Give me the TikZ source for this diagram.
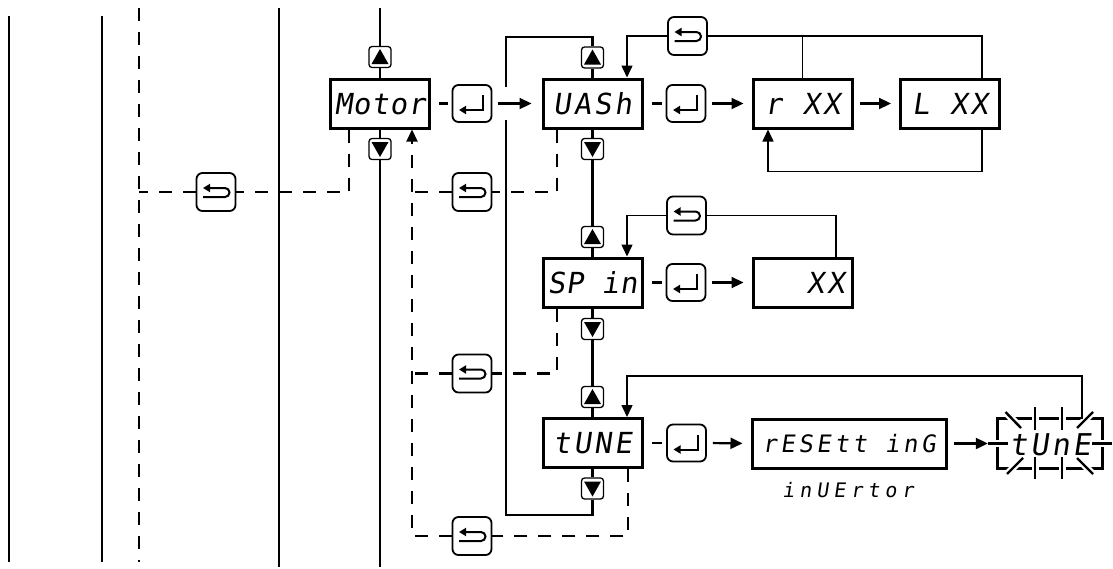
\documentclass[tikz,border=0pt]{standalone}
\usepackage{fontspec}
\usetikzlibrary{arrows.meta,calc}
\newfontfamily\segM[FakeSlant=0.15,LetterSpace=3]{DejaVu Sans Mono}
\newfontfamily\segN[FakeSlant=0.15,LetterSpace=10]{DejaVu Sans Mono}
\newfontfamily\segR[FakeSlant=0.15,LetterSpace=15]{DejaVu Sans Mono}
\newfontfamily\segI[FakeSlant=0.15,LetterSpace=25]{DejaVu Sans Mono}
\begin{document}
\begin{tikzpicture}[x=1pt,y=-1pt,
  disp/.style={draw, line width=3pt, minimum width=99pt, minimum height=49pt, inner sep=0pt,
    text height=21pt, text depth=0pt, font=\segN\fontsize{29pt}{29pt}\selectfont},
  btn/.style={draw, line width=1.3pt, rounded corners=3pt, minimum width=22pt, minimum height=21pt, inner sep=0pt},
  upb/.style={btn, path picture={\fill[sharp corners] ($(path picture bounding box.center)+(-8.5pt,-7pt)$) -- ++(17pt,0pt) -- ++(-8.5pt,15pt) -- cycle;}},
  dnb/.style={btn, path picture={\fill[sharp corners] ($(path picture bounding box.center)+(-8.5pt,7pt)$) -- ++(17pt,0pt) -- ++(-8.5pt,-15pt) -- cycle;}},
  entb/.style={draw, line width=1.8pt, rounded corners=6pt, minimum width=39pt, minimum height=37pt, inner sep=0pt,
    path picture={\draw[sharp corners, line width=2pt, -{Triangle[length=7pt,width=8pt]}]
      ($(path picture bounding box.center)+(11pt,8.5pt)$) -- ++(0pt,-15pt) -- ++(-24pt,0pt);}},
  retb/.style={draw, line width=1.8pt, rounded corners=6pt, minimum width=39pt, minimum height=38pt, inner sep=0pt,
    path picture={\draw[sharp corners, line width=2pt, -{Triangle[length=7pt,width=8pt]}]
      ($(path picture bounding box.center)+(-13pt,-5pt)$) -- ++(22pt,0pt) arc[start angle=-90, end angle=90, radius=4.5pt] -- ++(-22pt,0pt);}},
  mainl/.style={line width=2.2pt},
  thinl/.style={line width=1.5pt},
  dsh/.style={line width=2.1pt, dash pattern=on 13pt off 11pt},
  arr/.style={-{Triangle[length=12pt,width=11pt]}},
  ray/.style={line width=2.4pt, preaction={draw=white, line width=7pt}}
]
\useasboundingbox (0,0) rectangle (1113,568);

% left guide lines
\coordinate (g1t) at (9,16);   \coordinate (g1b) at (9,562);
\coordinate (g2t) at (102,16); \coordinate (g2b) at (102,562);
\coordinate (g3t) at (139,8);  \coordinate (g3b) at (139,562);
\coordinate (g4t) at (279,8);  \coordinate (g4b) at (279,567);
\coordinate (mtop) at (380,8); \coordinate (mbot) at (380,567);
\draw[mainl] (g1t) -- (g1b);
\draw[mainl] (g2t) -- (g2b);
\draw[dsh] (g3t) -- (g3b);
\draw[mainl] (g4t) -- (g4b);

% nodes
\node[disp, font=\segM\fontsize{29pt}{29pt}\selectfont] (motor) at (380,103.5) {Motor};
\node[upb] (mu) at (380,57) {};
\node[dnb] (md) at (380,149) {};
\node[entb] (e1) at (472,103.5) {};
\node[disp] (wash) at (592.5,103.5) {UASh};
\node[upb] (wu) at (592.5,57.5) {};
\node[dnb] (wd) at (592.5,149) {};
\node[entb] (e2) at (686,103.5) {};
\node[disp] (rxx) at (802.5,103.5) {r XX};
\node[disp] (lxx) at (950,103.5) {L XX};
\node[retb] (rw) at (687.5,36) {};

\node[disp, font=\segM\fontsize{29pt}{29pt}\selectfont] (spin) at (592.5,282.5) {SP in};
\node[upb] (su) at (592.5,237) {};
\node[dnb] (sd) at (592.5,329) {};
\node[entb] (e3) at (686,282.5) {};
\node[disp, text width=84pt, align=right] (xx) at (802.5,282.5) {XX};
\node[retb] (rs) at (686.5,215.5) {};

\node[disp] (tune) at (592.5,443) {tUNE};
\node[upb] (tu) at (592.5,397) {};
\node[dnb] (td) at (592.5,488.5) {};
\node[entb] (e4) at (686.5,443) {};
\node[disp, minimum width=194pt, text height=17pt, font=\segR\fontsize{24pt}{24pt}\selectfont] (reset) at (849,443.5) {rESEtt inG};
\node[inner sep=0pt, font=\segI\fontsize{20pt}{20pt}\selectfont] (inv) at (848,490) {inUErtor};
\node[minimum width=104pt, minimum height=49pt, inner sep=0pt, text height=23pt, text depth=0pt,
      font=\segN\fontsize{30pt}{30pt}\selectfont] (blink) at (1050,443.5) {tUnE};

\node[retb] (r0) at (216,192) {};
\node[retb] (r1) at (472,192) {};
\node[retb] (r2) at (472,373.5) {};
\node[retb] (r3) at (472,536) {};

% blinking frame
\draw[line width=3pt] (blink.north west) rectangle (blink.south east);
\draw[ray] (1005.5,412) -- (1021,428);
\draw[ray] (1035,407) -- (1035,430);
\draw[ray] (1062,407) -- (1062,430);
\draw[ray] (1077,428) -- (1093,412);
\draw[ray] (988,443.5) -- (1008,443.5);
\draw[ray] (1092,443.5) -- (1112,443.5);
\draw[ray] (1007,474) -- (1023,458);
\draw[ray] (1035,457) -- (1035,479);
\draw[ray] (1062,457) -- (1062,479);
\draw[ray] (1077,458) -- (1093,474);

% motor column
\draw[mainl] (mtop) -- (mu.north);
\draw[mainl] (mu.south) -- (motor.north);
\draw[mainl] (motor.south) -- (md.north);
\draw[mainl] (md.south) -- (mbot);

% main column
\draw[mainl] (wu.south) -- (wash.north);
\draw[mainl] (wash.south) -- (wd.north);
\draw[mainl] (wd.south) -- (su.north);
\draw[mainl] (su.south) -- (spin.north);
\draw[mainl] (spin.south) -- (sd.north);
\draw[mainl] (sd.south) -- (tu.north);
\draw[mainl] (tu.south) -- (tune.north);
\draw[mainl] (tune.south) -- (td.north);
\coordinate (lpb) at (506,515);
\coordinate (lpg1) at (506,120);
\coordinate (lpg2) at (506,87);
\coordinate (lpt) at (506,37);
\draw[mainl] (td.south) |- (lpb) -- (lpg1);
\draw[mainl] (lpg2) -- (lpt) -| (wu.north);

% enter rows
\draw[mainl, shorten <=8pt, shorten >=4pt] (motor.east) -- (e1.west);
\draw[mainl, arr, shorten <=6pt, shorten >=10pt] (e1.east) -- (wash.west);
\draw[mainl, shorten <=8pt, shorten >=4pt] (wash.east) -- (e2.west);
\draw[mainl, arr, shorten <=6pt, shorten >=8pt] (e2.east) -- (rxx.west);
\draw[mainl, arr, shorten <=6pt, shorten >=8pt] (rxx.east) -- (lxx.west);
\draw[mainl, shorten <=8pt, shorten >=4pt] (spin.east) -- (e3.west);
\draw[mainl, arr, shorten <=6pt, shorten >=8pt] (e3.east) -- (xx.west);
\draw[mainl, shorten <=8pt, shorten >=4pt] (tune.east) -- (e4.west);
\draw[mainl, arr, shorten <=6pt, shorten >=8pt] (e4.east) -- (reset.west);
\draw[mainl, arr, shorten <=6pt] (reset.east) -- ($(blink.west)+(-10,0)$);

% return loops
\draw[thinl] ($(lxx.north)+(32,0)$) |- (rw.east);
\draw[thinl] (rxx.north) |- (rw.east);
\draw[thinl, arr] (rw.west) -| ($(wash.north)+(34.5,0)$);
\draw[thinl, arr] ($(lxx.south)+(32,0)$) -- ++(0,42) -| ($(rxx.south)+(-34.5,0)$);
\draw[thinl] ($(xx.north)+(33.5,0)$) |- (rs.east);
\draw[thinl, arr] (rs.west) -| ($(spin.north)+(34.5,0)$);
\draw[thinl, arr] ($(blink.north)+(32,0)$) -- ++(0,-43) -| ($(tune.north)+(34.5,0)$);

% dashed escapes
\draw[dsh] ($(motor.south)+(-31,0)$) |- (r0.east);
\draw[dsh] (r0.west) -- (r0.west -| g3t);
\draw[dsh] ($(wash.south)+(-35.5,0)$) |- (r1.east);
\draw[dsh] (r1.west) -- ++(-41,0);
\draw[dsh] ($(spin.south)+(-35.5,0)$) |- (r2.east);
\draw[dsh] (r2.west) -- ++(-41,0);
\draw[dsh] ($(tune.south)+(35.5,0)$) |- (r3.east);
\draw[dsh, arr] (r3.west) -| ($(motor.south)+(32,0)$);
\end{tikzpicture}
\end{document}
